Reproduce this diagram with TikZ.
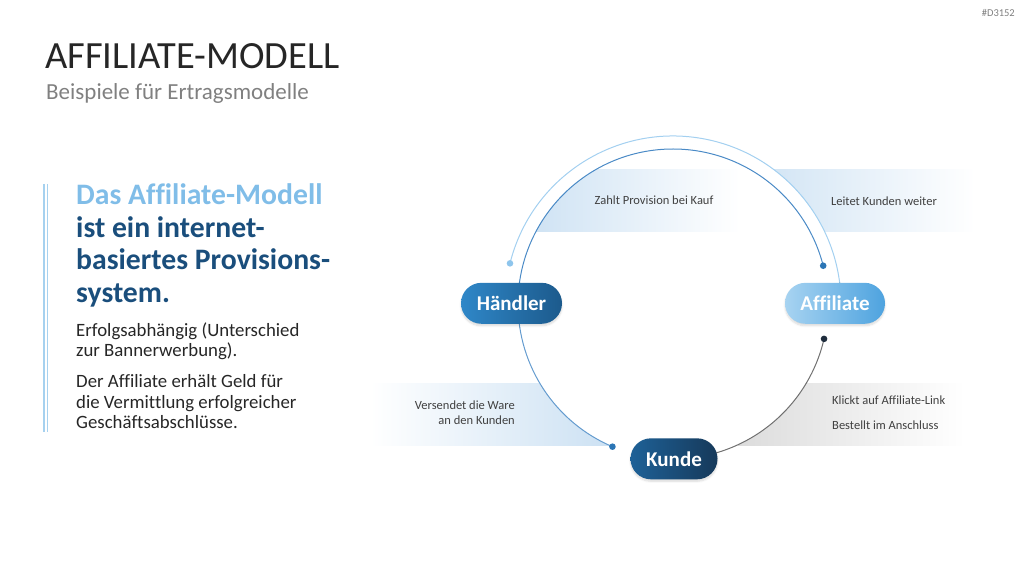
\documentclass[tikz,border=0pt]{standalone}
\usepackage{fontspec}
\setmainfont{Carlito}[Ligatures=NoCommon]
\usetikzlibrary{calc,shadows.blur}
\definecolor{arcLight}{HTML}{A3D0F0}
\definecolor{arcBlue}{HTML}{4A8AC6}
\definecolor{arcGray}{HTML}{707070}
\definecolor{dotLight}{HTML}{8EC5EC}
\definecolor{dotBlue}{HTML}{2B75B5}
\definecolor{dotDark}{HTML}{1F2D3D}
\definecolor{bandBlue}{HTML}{CCE1F3}
\definecolor{bandGray}{HTML}{DCDCDC}
\definecolor{headLight}{HTML}{80BDE8}
\definecolor{headDark}{HTML}{1A4E7C}
\definecolor{textGray}{HTML}{404040}
\definecolor{bodyGray}{HTML}{262626}
\definecolor{haendlerA}{HTML}{2F87C8}
\definecolor{haendlerB}{HTML}{1C5A8C}
\definecolor{affiliateA}{HTML}{A7D3F1}
\definecolor{affiliateB}{HTML}{4EA3DF}
\definecolor{kundeA}{HTML}{1E6197}
\definecolor{kundeB}{HTML}{16395A}
\tikzset{
  pill/.style={rounded corners=20.5pt, minimum height=41pt, inner sep=0pt, text=white,
    font=\fontsize{21}{24}\selectfont\bfseries,
    blur shadow={shadow xshift=0pt, shadow yshift=-2pt, shadow opacity=15, shadow blur steps=6}},
  bandText/.style={text=textGray, font=\fontsize{12.5}{15}\selectfont, inner sep=0pt},
  headText/.style={anchor=base west, inner sep=0pt, font=\fontsize{29.7}{33}\selectfont\bfseries},
  bodyText/.style={anchor=base west, inner sep=0pt, text=bodyGray, font=\fontsize{18.8}{20}\selectfont},
  arcLine/.style={line width=1pt},
}
\begin{document}
\begin{tikzpicture}[x=1pt,y=1pt]
\useasboundingbox (0,0) rectangle (1024,576);
\coordinate (c) at (673,272);

% title
\node[anchor=base west, inner sep=0pt, text=black!85, font=\fontsize{38.5}{40}\selectfont] (title) at (45,507) {AFFILIATE-MODELL};
\node[anchor=base west, inner sep=0pt, text=black!50, font=\fontsize{23}{26}\selectfont] (subtitle) at (46,476) {Beispiele für Ertragsmodelle};
\node[anchor=east, inner sep=0pt, text=black!50, font=\fontsize{10.5}{12}\selectfont] (docid) at (1015,563) {\#D3152};

% left text block
\draw[headLight!70, line width=2.2pt] (44,392) -- (44,144);
\draw[headLight!70, line width=1pt] (47.5,392) -- (47.5,144);
\node[headText, text=headLight] (head0) at (76,371) {Das Affiliate-Modell};
\foreach \ln/\yy [count=\i] in {{ist ein internet-}/338.5, {basiertes Provisions-}/306, {system.}/273.5}
  \node[headText, text=headDark] (head\i) at (76,\yy) {\ln};
\foreach \ln/\yy [count=\i] in {{Erfolgsabhängig (Unterschied}/239.5, {zur Bannerwerbung).}/219.5,
    {Der Affiliate erhält Geld für}/188.5, {die Vermittlung erfolgreicher}/168, {Geschäftsabschlüsse.}/147.5}
  \node[bodyText] (body\i) at (76,\yy) {\ln};

% bands
\begin{scope}
  \clip (c) circle[radius=155pt];
  \shade[left color=bandBlue, right color=white] (520,344) rectangle (740,406);
\end{scope}
\begin{scope}[even odd rule]
  \clip (0,0) rectangle (1024,576) (c) circle[radius=168pt];
  \shade[left color=bandBlue!85, right color=white] (772,344) rectangle (975,406);
\end{scope}
\begin{scope}[even odd rule]
  \clip (0,0) rectangle (1024,576) (c) circle[radius=155pt];
  \shade[left color=white, right color=bandBlue] (370,131) rectangle (612,193);
  \shade[left color=bandGray, right color=white] (738,131) rectangle (965,193);
\end{scope}

\node[bandText] (zahlt) at (654,376) {Zahlt Provision bei Kauf};
\node[bandText] (leitet) at (884,375) {Leitet Kunden weiter};
\node[bandText, anchor=east, align=right] (versendet) at (515,163.5) {Versendet die Ware\\an den Kunden};
\node[bandText, anchor=west, align=left] (klickt) at (832,163.5) {Klickt auf Affiliate-Link\\[10pt]Bestellt im Anschluss};

% arcs
\draw[arcLine, arcLight] ($(c)+(166:168pt)$) coordinate (dotOuter) arc[start angle=166, end angle=0, radius=168pt];
\draw[arcLine, arcBlue] ($(c)+(180:155pt)$) arc[start angle=180, end angle=14.3, radius=155pt] coordinate (dotInner);
\draw[arcLine, arcBlue!85] ($(c)+(180:155pt)$) arc[start angle=180, end angle=247, radius=155pt] coordinate (dotLeft);
\draw[arcLine, arcGray] ($(c)+(270:155pt)$) arc[start angle=270, end angle=347, radius=155pt] coordinate (dotRight);
\fill[dotLight] (dotOuter) circle[radius=3.3pt];
\fill[dotBlue] (dotInner) circle[radius=3.3pt];
\fill[dotBlue] (dotLeft) circle[radius=3.3pt];
\fill[dotDark] (dotRight) circle[radius=3.3pt];

% nodes
\node[pill, minimum width=101pt, left color=haendlerA, right color=haendlerB] (haendler) at (511.5,272.7) {Händler};
\node[pill, minimum width=100pt, left color=affiliateA, right color=affiliateB] (affiliate) at (835,272.7) {Affiliate};
\node[pill, minimum width=87pt, left color=kundeA, right color=kundeB] (kunde) at (674,117.2) {Kunde};
\end{tikzpicture}
\end{document}
